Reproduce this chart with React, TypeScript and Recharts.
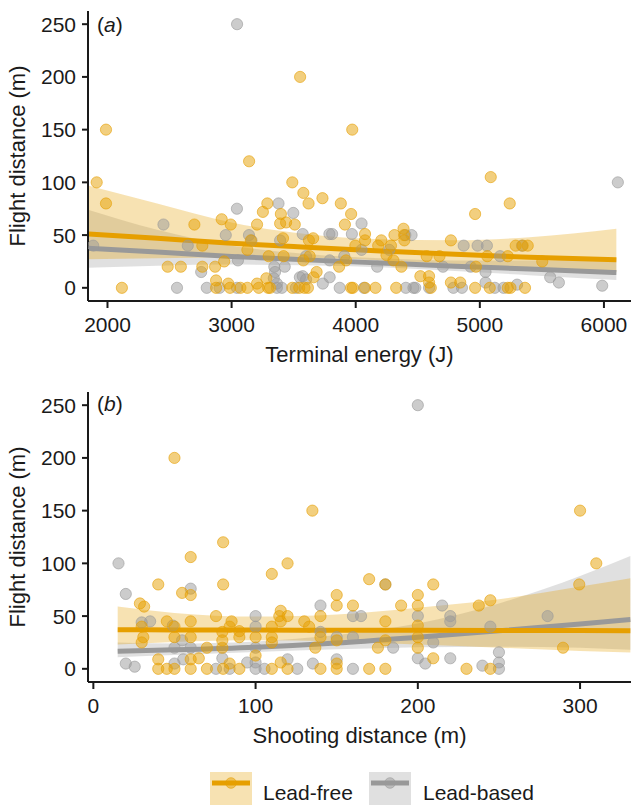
import React from 'react';
import { ComposedChart, Scatter, Line, Area, XAxis, YAxis } from 'recharts';

// ---------- Panel (a): terminal energy ----------
const energyLeadFree: [number, number][] = [
  [1913, 100], [1988, 150], [1988, 80], [2116, 0], [2700, 60], [2764, 40], [2485, 20], [2591, 20],
  [2764, 20], [2867, 20], [2920, 65], [2993, 60], [2940, 25], [2875, 7], [2973, 4], [2875, 0],
  [2987, 0], [3071, 0], [3127, 0], [3205, 60], [3155, 45], [3127, 36], [3252, 72], [3288, 80],
  [3489, 100], [3578, 90], [3620, 80], [3732, 85], [3880, 80], [3963, 70], [3397, 70], [3391, 61],
  [3439, 62], [3509, 60], [3414, 47], [3657, 47], [3623, 45], [3913, 60], [4075, 51], [4075, 45],
  [3997, 40], [4181, 40], [4206, 45], [4284, 40], [4312, 50], [4385, 56], [4390, 50], [4392, 45],
  [4248, 31], [4304, 26], [4368, 20], [3866, 20], [3922, 26], [3685, 15], [3660, 10], [3629, 30],
  [3578, 26], [3299, 30], [3419, 30], [3280, 9], [3205, 4], [3219, 0], [3294, 0], [3310, 0],
  [3489, 0], [3545, 0], [3587, 0], [3615, 0], [3963, 0], [3977, 0], [4075, 0], [4159, 0],
  [4326, 0], [4605, 0], [4521, 11], [4591, 11], [4591, 5], [4572, 30], [4675, 30], [4767, 45],
  [4767, 5], [4842, 5], [4962, 0], [4962, 70], [5060, 30], [4968, 20], [5080, 0], [5225, 0],
  [5247, 0], [5364, 0], [5241, 80], [5289, 40], [5345, 40], [5386, 40], [5225, 30], [5503, 25],
  [3141, 120], [3552, 200], [3972, 150], [5088, 105],
];

const energyLeadBased: [number, number][] = [
  [1885, 40], [2451, 60], [2647, 40], [2560, 0], [2755, 15], [3043, 75], [2953, 50], [3051, 26],
  [2800, 0], [2903, 0], [3043, 0], [3140, 50], [3160, 45], [3378, 80], [3497, 71], [3391, 45],
  [3573, 51], [3788, 51], [3810, 51], [3969, 51], [4047, 61], [4270, 36], [4400, 50], [4047, 36],
  [4173, 20], [3908, 30], [3790, 26], [3573, 11], [3550, 10], [3600, 8], [3790, 10], [3735, 4],
  [3600, 30], [3428, 20], [3344, 20], [3350, 15], [3340, 9], [3365, 4], [3365, 0], [3405, 0],
  [3518, 0], [3871, 0], [4066, 0], [4404, 0], [4465, 0], [4480, 0], [4591, 0], [4703, 20],
  [4787, 0], [4856, 0], [4870, 40], [4982, 40], [5057, 40], [4926, 20], [5046, 15], [5046, 5],
  [5121, 0], [5191, 0], [5300, 3], [5163, 30], [5567, 10], [5637, 5], [5986, 2], [6112, 100],
  [3044, 250], [5340, 40], [4450, 50],
];

const energyCurveX = [1843, 2400, 3000, 3600, 4200, 4800, 5400, 6100];
const energyFreeMid = [51, 47, 42.3, 38.5, 35, 31.8, 29, 26.5];
const energyFreeHigh = [97, 80, 62, 51, 46, 45, 48, 56];
const energyFreeLow = [27, 28, 29, 28.5, 26, 22.5, 19, 15];
const energyBasedMid = [37.5, 34, 29.8, 26.5, 23.5, 20.5, 17.8, 14.5];
const energyBasedHigh = [74, 55, 40, 32, 28, 26, 26, 28];
const energyBasedLow = [19, 21, 22, 21.5, 19.5, 16, 12, 7.5];

const energyTicks = [2000, 3000, 4000, 5000, 6000];

// ---------- Panel (b): shooting distance ----------
const shotLeadFree: [number, number][] = [
  [50, 200], [135, 150], [300, 150], [80, 120], [60, 106], [119.7, 100], [110, 90], [40, 80],
  [80, 80], [54.7, 72], [60, 70], [28.7, 62], [31.3, 59], [170, 85], [180, 80], [209.5, 80],
  [150, 70], [150, 60], [160, 60], [189.7, 60], [200, 70], [200, 60], [237.6, 60], [244.7, 65],
  [299.5, 80], [310, 100], [289.5, 20], [244.7, 0], [230, 0], [209.5, 10], [200, 20], [200, 30],
  [200, 41], [180, 45], [180, 27], [175.4, 20], [140, 50], [140, 30], [136.8, 20], [150, 27],
  [130, 45], [133, 40], [115.5, 55], [115.5, 45], [114.6, 50], [119.7, 50], [110, 40], [110, 30],
  [110, 25], [100, 30], [100, 12.6], [90, 35.7], [90, 30], [85.2, 45], [84, 40], [79.5, 35],
  [79.5, 27], [79.5, 20], [84, 5], [75.6, 50], [70, 20], [60, 45], [60, 30], [65, 10], [50, 40],
  [50, 30], [45.3, 45], [30.8, 30], [29.8, 25], [40, 9], [60, 9], [40, 0], [45.3, 0], [50, 0],
  [60, 0], [70, 0], [80, 0], [90, 0], [110, 0], [119.7, 0], [140, 0], [150, 0], [170, 0], [180, 0],
  [115.5, 6], [150, 5], [29.8, 40],
];

const shotLeadBased: [number, number][] = [
  [15.5, 100], [20, 71], [60, 76], [180, 80], [200, 250], [200, 50], [215, 60], [220, 50],
  [220, 45], [280, 50], [244.7, 40], [250, 15.7], [250, 6], [250, 0], [239.8, 3], [220, 10],
  [204.6, 5], [200, 10], [209.5, 25], [184.8, 20], [165, 50], [160, 50], [140, 60], [140, 35],
  [150, 30], [160, 30], [100, 50], [100, 40], [100, 20], [100, 6], [79.5, 10], [60, 20],
  [54.7, 27], [50, 20], [35, 45], [29.8, 44], [20, 5], [25.5, 2], [50, 5], [55.4, 9], [75.6, 0],
  [84, 0], [100, 0], [105.5, 0], [125.7, 0], [160, 0], [94.8, 6], [119.7, 9], [135.3, 5],
  [150, 9], [49, 41],
];

const shotCurveX = [15, 50, 100, 150, 200, 250, 300, 331];
const shotFreeMid = [37, 36.9, 36.7, 36.6, 36.5, 36.4, 36.3, 36.2];
const shotFreeHigh = [59, 53, 49.5, 51.5, 58, 66, 78, 86];
const shotFreeLow = [23, 25.5, 27, 26, 23, 20, 17, 15.5];
const shotBasedMid = [16.7, 18, 20.5, 24.5, 30, 36, 42.5, 46.7];
const shotBasedHigh = [25, 24, 26, 32, 43, 62, 88, 107];
const shotBasedLow = [11, 13, 16, 18.5, 20.5, 21, 20, 18];

const shotTicks = [0, 100, 200, 300];

const yTicks = [0, 50, 100, 150, 200, 250];

const ORANGE = '#E69F00';
const GREY = '#999999';
const FONT = '"Liberation Sans", Arial, Helvetica, sans-serif';
const AXIS = '#1a1a1a';

const toPts = (arr: [number, number][]) => arr.map(([x, y]) => ({ x, y }));

const buildCurve = (
  xs: number[], fm: number[], fh: number[], fl: number[], bm: number[], bh: number[], bl: number[]
) =>
  xs.map((x, i) => ({
    x,
    freeMid: fm[i],
    freeBand: [fl[i], fh[i]],
    basedMid: bm[i],
    basedBand: [bl[i], bh[i]],
  }));

const energyCurve = buildCurve(energyCurveX, energyFreeMid, energyFreeHigh, energyFreeLow, energyBasedMid, energyBasedHigh, energyBasedLow);
const shotCurve = buildCurve(shotCurveX, shotFreeMid, shotFreeHigh, shotFreeLow, shotBasedMid, shotBasedHigh, shotBasedLow);

const makeDot = (color: string) => (p: any) => (
  <circle
    cx={p.cx}
    cy={p.cy}
    r={5.6}
    fill={color}
    fillOpacity={0.5}
    stroke={color}
    strokeOpacity={0.6}
    strokeWidth={1}
  />
);

const tickStyle = { fontSize: 21, fill: AXIS, fontFamily: FONT };

interface PanelProps {
  curve: any[];
  free: { x: number; y: number }[];
  based: { x: number; y: number }[];
  domain: [number, number];
  ticks: number[];
}

const Panel = ({ curve, free, based, domain, ticks }: PanelProps) => (
  <ComposedChart
    width={631}
    height={340}
    data={curve}
    margin={{ top: 11, right: 0, bottom: 0, left: 0 }}
  >
    <XAxis
      dataKey="x"
      type="number"
      domain={domain}
      ticks={ticks}
      allowDataOverflow
      height={39}
      tickSize={7}
      tickMargin={9}
      tick={tickStyle}
      axisLine={{ stroke: AXIS, strokeWidth: 2 }}
      tickLine={{ stroke: AXIS, strokeWidth: 2 }}
    />
    <YAxis
      dataKey="y"
      type="number"
      domain={[-12.5, 262.5]}
      ticks={yTicks}
      allowDataOverflow
      width={88}
      tickSize={6}
      tickMargin={6}
      tick={tickStyle}
      axisLine={{ stroke: AXIS, strokeWidth: 2 }}
      tickLine={{ stroke: AXIS, strokeWidth: 2 }}
    />
    <Area dataKey="basedBand" type="monotone" fill={GREY} fillOpacity={0.3} stroke="none" isAnimationActive={false} activeDot={false} />
    <Area dataKey="freeBand" type="monotone" fill={ORANGE} fillOpacity={0.3} stroke="none" isAnimationActive={false} activeDot={false} />
    <Scatter data={based} dataKey="y" shape={makeDot(GREY)} isAnimationActive={false} />
    <Scatter data={free} dataKey="y" shape={makeDot(ORANGE)} isAnimationActive={false} />
    <Line dataKey="basedMid" type="monotone" stroke={GREY} strokeWidth={5} dot={false} activeDot={false} isAnimationActive={false} />
    <Line dataKey="freeMid" type="monotone" stroke={ORANGE} strokeWidth={5} dot={false} activeDot={false} isAnimationActive={false} />
  </ComposedChart>
);

const abs = (s: React.CSSProperties): React.CSSProperties => ({ position: 'absolute', ...s });

export default function App() {
  return (
    <div style={{ position: 'absolute', left: 0, top: 0, width: 631, height: 805, background: '#fff', fontFamily: FONT, color: AXIS, overflow: 'hidden' }}>
      <div style={abs({ left: 0, top: 0 })}>
        <Panel curve={energyCurve} free={toPts(energyLeadFree)} based={toPts(energyLeadBased)} domain={[1843, 6218]} ticks={energyTicks} />
      </div>
      <div style={abs({ left: 0, top: 381 })}>
        <Panel curve={shotCurve} free={toPts(shotLeadFree)} based={toPts(shotLeadBased)} domain={[-3.3, 331.4]} ticks={shotTicks} />
      </div>

      {/* panel tags */}
      <div style={abs({ left: 97, top: 14, fontSize: 21, lineHeight: '21px' })}>(<i>a</i>)</div>
      <div style={abs({ left: 97, top: 393, fontSize: 21, lineHeight: '21px' })}>(<i>b</i>)</div>

      {/* y titles */}
      <div style={abs({ left: 18, top: 156, fontSize: 22, lineHeight: '22px', whiteSpace: 'nowrap', transform: 'translate(-50%, -50%) rotate(-90deg)' })}>Flight distance (m)</div>
      <div style={abs({ left: 18, top: 537, fontSize: 22, lineHeight: '22px', whiteSpace: 'nowrap', transform: 'translate(-50%, -50%) rotate(-90deg)' })}>Flight distance (m)</div>

      {/* x titles */}
      <div style={abs({ left: 88, width: 543, top: 344, fontSize: 22, lineHeight: '22px', textAlign: 'center' })}>Terminal energy (J)</div>
      <div style={abs({ left: 88, width: 543, top: 725, fontSize: 22, lineHeight: '22px', textAlign: 'center' })}>Shooting distance (m)</div>

      {/* legend */}
      <svg style={abs({ left: 0, top: 760 })} width={631} height={45}>
        <rect x={210} y={12} width={42} height={40} fill={ORANGE} fillOpacity={0.3} />
        <line x1={212} x2={250} y1={23} y2={23} stroke={ORANGE} strokeWidth={5} />
        <circle cx={231} cy={23} r={5.3} fill={ORANGE} fillOpacity={0.5} stroke={ORANGE} strokeOpacity={0.6} />
        <rect x={369} y={12} width={42} height={40} fill={GREY} fillOpacity={0.3} />
        <line x1={371} x2={409} y1={23} y2={23} stroke={GREY} strokeWidth={5} />
        <circle cx={390} cy={23} r={5.3} fill={GREY} fillOpacity={0.5} stroke={GREY} strokeOpacity={0.6} />
      </svg>
      <div style={abs({ left: 263, top: 782, fontSize: 21, lineHeight: '21px', whiteSpace: 'nowrap' })}>Lead-free</div>
      <div style={abs({ left: 423, top: 782, fontSize: 21, lineHeight: '21px', whiteSpace: 'nowrap' })}>Lead-based</div>
    </div>
  );
}
